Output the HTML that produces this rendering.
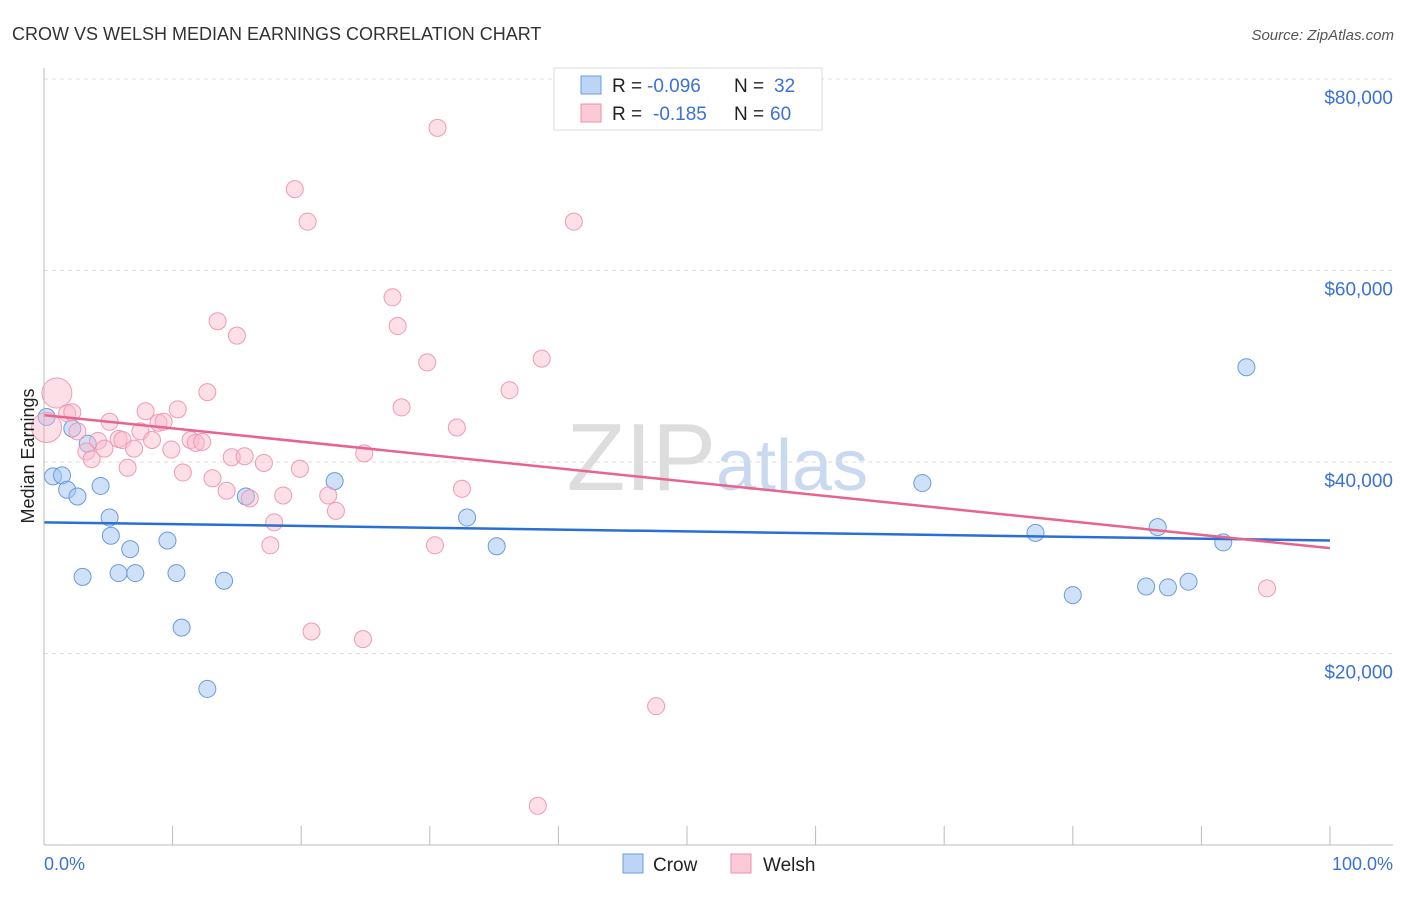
<!DOCTYPE html>
<html><head><meta charset="utf-8"><style>
body{margin:0;background:#fff;font-family:"Liberation Sans",sans-serif}
svg text{font-family:"Liberation Sans",sans-serif}
</style></head><body>
<svg width="1406" height="892">
<text x="12" y="40" font-size="18" fill="#333">CROW VS WELSH MEDIAN EARNINGS CORRELATION CHART</text>
<text x="1394" y="40" font-size="15" fill="#555" text-anchor="end" font-style="italic">Source: ZipAtlas.com</text>
<text x="716" y="490" font-size="96" fill="#ddd" font-family="Liberation Serif" text-anchor="end">ZIP</text>
<text x="716" y="490" font-size="72" fill="#c9d9f0">atlas</text>
<g id="grid"></g><g id="pts"></g><g id="trend"></g>
<line x1="44" y1="68" x2="44" y2="845" stroke="#bbb"/>
<line x1="44" y1="845" x2="1393" y2="845" stroke="#bbb"/>
<text transform="translate(34,456) rotate(-90)" font-size="18" fill="#222" text-anchor="middle">Median Earnings</text>
<text x="44" y="870" font-size="18" fill="#3a72d4">0.0%</text>
<text x="1393" y="870" font-size="18" fill="#3a72d4" text-anchor="end">100.0%</text>
<g>
<rect x="554" y="68" width="268" height="62" fill="#fff" stroke="#ddd"/>
<rect x="581" y="76" width="20" height="18" fill="#bcd4f5" stroke="#6a9be0"/>
<rect x="581" y="104" width="20" height="18" fill="#fcc9d7" stroke="#ee8fab"/>
<text x="612" y="92" font-size="19" fill="#222">R =</text>
<text x="647" y="92" font-size="19" fill="#3a72d4">-0.096</text>
<text x="734" y="92" font-size="19" fill="#222">N =</text>
<text x="774" y="92" font-size="19" fill="#3a72d4">32</text>
<text x="612" y="120" font-size="19" fill="#222">R =</text>
<text x="653" y="120" font-size="19" fill="#3a72d4">-0.185</text>
<text x="734" y="120" font-size="19" fill="#222">N =</text>
<text x="770" y="120" font-size="19" fill="#3a72d4">60</text>
</g>
<g>
<rect x="623" y="854" width="20" height="19" fill="#bcd4f5" stroke="#6a9be0"/>
<text x="653" y="871" font-size="19" fill="#222">Crow</text>
<rect x="731" y="854" width="20" height="19" fill="#fcc9d7" stroke="#ee8fab"/>
<text x="763" y="871" font-size="19" fill="#222">Welsh</text>
</g>
</svg>
<script>
const yTicks=[20000,40000,60000,80000];
const yTickLabels=["$20,000","$40,000","$60,000","$80,000"];
const xTicks=[0,10,20,30,40,50,60,70,80,90,100];
const crowX=[0.2,0.7,1.4,1.8,2.2,2.6,3.4,4.4,5.1,5.2,3.0,5.8,6.7,7.1,9.6,10.3,10.7,12.7,14.0,15.7,22.6,32.9,35.2,68.3,77.1,80.0,85.7,86.6,87.4,89.0,91.7,93.5];
const crowY=[44.7,38.5,38.6,37.1,43.5,36.4,41.9,37.5,34.2,32.3,28.0,28.4,30.9,28.4,31.8,28.4,22.7,16.3,27.6,36.4,38.0,34.2,31.2,37.8,32.6,26.1,27.0,33.2,26.9,27.5,31.6,49.9];
const welshX=[1.0,0.2,1.8,2.2,2.6,3.3,3.7,4.2,4.7,5.1,5.8,6.1,6.5,7.0,7.5,7.9,8.4,8.9,9.3,9.9,10.4,10.8,11.4,11.8,12.3,12.7,13.1,13.5,14.2,14.6,15.0,15.6,16.0,17.1,17.9,17.6,18.6,19.5,19.9,20.5,20.8,22.1,22.7,24.9,24.8,27.1,27.5,27.8,29.8,30.4,30.6,32.1,32.5,36.2,38.4,38.7,41.2,47.6,95.1];
const welshY=[47.2,43.6,45.1,45.2,43.2,41.1,40.3,42.2,41.4,44.2,42.4,42.3,39.4,41.4,43.2,45.3,42.3,44.1,44.2,41.3,45.5,38.9,42.3,42.0,42.1,47.3,38.3,54.7,37.0,40.5,53.2,40.6,36.2,39.9,33.7,31.3,36.5,68.5,39.3,65.1,22.3,36.5,34.9,40.9,21.5,57.2,54.2,45.7,50.4,31.3,74.9,43.6,37.2,47.5,4.1,50.8,65.1,14.5,26.8];
const crowTrend=[33700,31800];
const welshTrend=[44900,31000];
const X=p=>44+p*12.86, Y=v=>845-v*191.5/20000;
const NS="http://www.w3.org/2000/svg";
function mk(t,a,parent){const e=document.createElementNS(NS,t);for(const k in a)e.setAttribute(k,a[k]);document.getElementById(parent).appendChild(e);return e;}
yTicks.forEach((v,i)=>{
 const l=mk('line',{x1:44,x2:1393,y1:Y(v),y2:Y(v),stroke:'#ddd','stroke-dasharray':'4,4'},'grid');
 
 
 const t=mk('text',{x:1393,y:Y(v)+25,'font-size':19,fill:'#3a72d4','text-anchor':'end'},'grid');
 t.textContent=yTickLabels[i];
 
 
});
xTicks.forEach(p=>{
 const l=mk('line',{x1:X(p),x2:X(p),y1:826,y2:845,stroke:'#bbb'},'grid');
 
 
});
crowX.forEach((x,i)=>{
 const c=mk('circle',{cx:X(x),cy:Y(crowY[i]*1000),r:8.5,fill:'rgba(160,195,240,0.5)',stroke:'#6a9be0','stroke-width':1},'pts');
 
 
});
welshX.forEach((x,i)=>{
 const r=i<2?15:8.5;
 const c=mk('circle',{cx:X(x),cy:Y(welshY[i]*1000),r:r,fill:'rgba(250,185,205,0.45)',stroke:'#ef9ab3','stroke-width':1},'pts');
 
 
});
const t1=mk('line',{x1:X(0),x2:X(100),y1:Y(crowTrend[0]),y2:Y(crowTrend[1]),stroke:'#2a6fd6','stroke-width':2.5},'trend');


const t2=mk('line',{x1:X(0),x2:X(100),y1:Y(welshTrend[0]),y2:Y(welshTrend[1]),stroke:'#e8648c','stroke-width':2.5},'trend');


</script>
</body></html>
